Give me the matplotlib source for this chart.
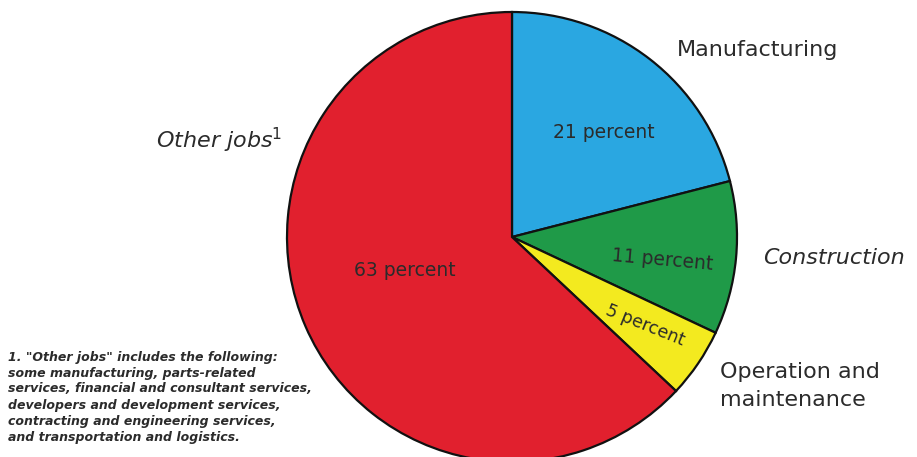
import matplotlib.pyplot as plt

# Share of jobs by sector
sectors = ['Manufacturing', 'Construction', 'Operation and\nmaintenance', 'Other jobs$^1$']
shares = [21, 11, 5, 63]
colors = ['#2aa7e1', '#1f9a48', '#f3ea1f', '#e1202e']

footnote = ('1. "Other jobs" includes the following:\n'
            'some manufacturing, parts-related\n'
            'services, financial and consultant services,\n'
            'developers and development services,\n'
            'contracting and engineering services,\n'
            'and transportation and logistics.')

fig = plt.figure(figsize=(9.17, 4.57), dpi=100)
ax = fig.add_axes([0, 0, 1, 1])

ax.pie(shares, colors=colors, startangle=90, counterclock=False,
       center=(512, 220), radius=225,
       wedgeprops=dict(edgecolor='#111111', linewidth=1.6))

# pie() resets the limits, so set them afterwards
ax.set_xlim(0, 917)
ax.set_ylim(0, 457)
ax.set_aspect('equal')
ax.axis('off')

txt = '#2b2b2b'
# outside labels
ax.text(677, 407, sectors[0], fontsize=16, color=txt, va='center', ha='left')
ax.text(763, 199, sectors[1], fontsize=16, color=txt, va='center', ha='left', style='italic')
ax.text(720, 71, sectors[2], fontsize=16, color=txt, va='center', ha='left',
        linespacing=1.55)
ax.text(282, 317, sectors[3], fontsize=16, color=txt, va='center', ha='right', style='italic')

# inside labels
ax.text(604, 324, f'{shares[0]} percent', fontsize=13.5, color=txt, ha='center', va='center')
ax.text(662, 197, f'{shares[1]} percent', fontsize=13.5, color=txt, ha='center', va='center', rotation=-5)
ax.text(645, 132, f'{shares[2]} percent', fontsize=12.5, color=txt, ha='center', va='center', rotation=-22)
ax.text(405, 187, f'{shares[3]} percent', fontsize=13.5, color=txt, ha='center', va='center')

ax.text(8, 60, footnote, fontsize=9, color=txt, ha='left', va='center',
        style='italic', fontweight='bold', linespacing=1.3)

fig.savefig('out.png', dpi=100)
